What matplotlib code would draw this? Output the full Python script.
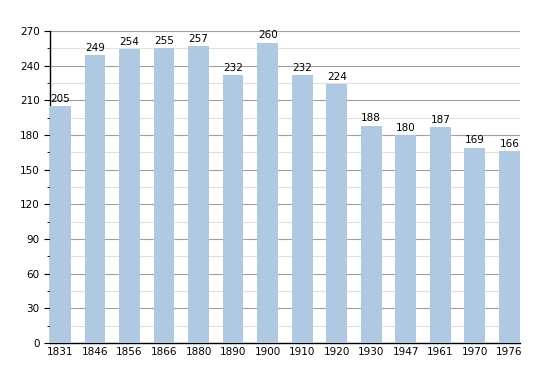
import matplotlib.pyplot as plt
from matplotlib.ticker import MultipleLocator

years = ['1831', '1846', '1856', '1866', '1880', '1890', '1900',
         '1910', '1920', '1930', '1947', '1961', '1970', '1976']
population = [205, 249, 254, 255, 257, 232, 260, 232, 224, 188, 180, 187, 169, 166]

fig = plt.figure(figsize=(5.5, 3.73), dpi=100)
ax = fig.add_axes([0.091, 0.080, 0.854, 0.837])

x = range(len(years))
ax.bar(x, population, width=0.6, color='#b0c9e3', zorder=3)
for i, v in enumerate(population):
    ax.text(i, v + 2, str(v), ha='center', va='bottom', fontsize=7.5, zorder=4)

ax.set_xlim(-0.3, len(years) - 0.7)
ax.set_ylim(0, 270)
ax.set_xticks(list(x))
ax.set_xticklabels(years, fontsize=7.5)
ax.yaxis.set_major_locator(MultipleLocator(30))
ax.yaxis.set_minor_locator(MultipleLocator(15))
ax.tick_params(axis='y', labelsize=7.5, length=4)
ax.tick_params(axis='y', which='minor', length=2)
ax.tick_params(axis='x', length=0, pad=3)

ax.grid(axis='y', which='major', color='#a0a0a0', linewidth=0.8, zorder=0)
ax.grid(axis='y', which='minor', color='#e0e0e0', linewidth=0.8, zorder=0)

ax.spines['top'].set_visible(False)
ax.spines['right'].set_visible(False)
ax.spines['left'].set_linewidth(1.0)
ax.spines['bottom'].set_linewidth(1.0)

fig.savefig('out.png', dpi=100)
